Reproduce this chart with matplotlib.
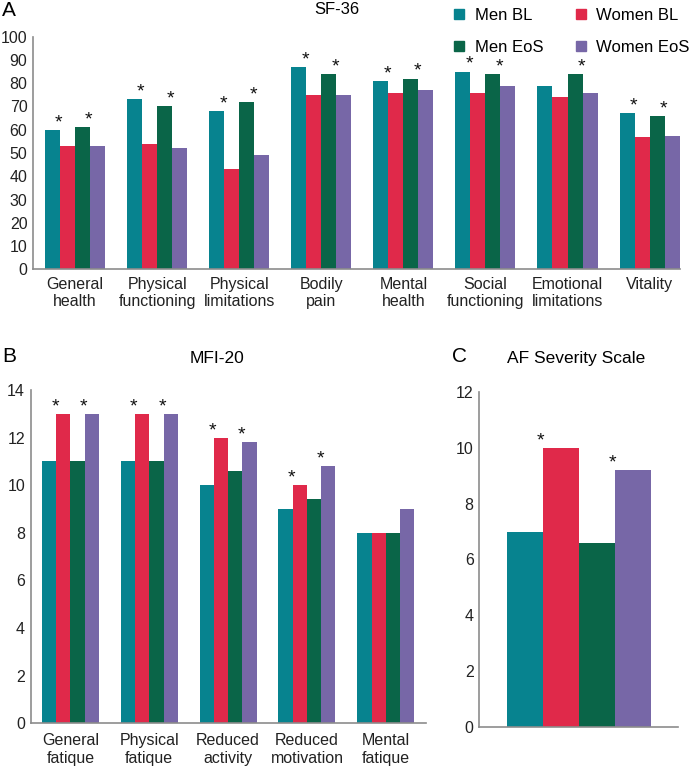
import matplotlib.pyplot as plt
from matplotlib.lines import Line2D

plt.rcParams['font.family'] = ['Liberation Sans', 'DejaVu Sans']

series = ["Men BL", "Women BL", "Men EoS", "Women EoS"]
colors = ["#07838F", "#E0294A", "#0A6548", "#7767A7"]

# panel A: SF-36
sf_cats = ["General\nhealth", "Physical\nfunctioning", "Physical\nlimitations", "Bodily\npain",
           "Mental\nhealth", "Social\nfunctioning", "Emotional\nlimitations", "Vitality"]
sf_men_bl = [60, 73, 68, 87, 81, 85, 79, 67]
sf_women_bl = [53, 54, 43, 75, 76, 76, 74, 57]
sf_men_eos = [61, 70, 72, 84, 82, 84, 84, 66]
sf_women_eos = [53, 52, 49, 75, 77, 79, 76, 57.5]
sf_star_bl = [1, 1, 1, 1, 1, 1, 0, 1]
sf_star_eos = [1, 1, 1, 1, 1, 1, 1, 1]

# panel B: MFI-20
mfi_cats = ["General\nfatique", "Physical\nfatique", "Reduced\nactivity", "Reduced\nmotivation", "Mental\nfatique"]
mfi_men_bl = [11, 11, 10, 9, 8]
mfi_women_bl = [13, 13, 12, 10, 8]
mfi_men_eos = [11, 11, 10.6, 9.4, 8]
mfi_women_eos = [13, 13, 11.8, 10.8, 9]
mfi_star_bl = [1, 1, 1, 1, 0]
mfi_star_eos = [1, 1, 1, 1, 0]

# panel C: AF Severity Scale
afs_values = [7, 10, 6.6, 9.2]
afs_star_bl = [1]
afs_star_eos = [1]

SPINE = "#8c8c8c"
FS = 13.5


def style(ax):
    for s in ["top", "right"]:
        ax.spines[s].set_visible(False)
    for s in ["left", "bottom"]:
        ax.spines[s].set_color(SPINE)
        ax.spines[s].set_linewidth(1.2)
    ax.tick_params(length=0, labelsize=11.5, colors="#222222")
    ax.tick_params(axis="y", pad=4)


def grouped(ax, groups, stars_bl, stars_eos, width):
    n = len(groups[0])
    xs = list(range(n))
    offs = [-1.5, -0.5, 0.5, 1.5]
    for vals, off, c in zip(groups, offs, colors):
        ax.bar([x + off * width for x in xs], vals, width, color=c, linewidth=0)
    for i in range(n):
        for k, flag in ((0, stars_bl[i]), (2, stars_eos[i])):
            if flag:
                top = max(groups[k][i], groups[k + 1][i])
                xj = i + (offs[k] + 0.5) * width - 0.08 * width
                ax.annotate("*", (xj, top), xytext=(0, -1), textcoords="offset points",
                            ha="center", va="bottom", fontsize=14, color="#111111")


fig = plt.figure(figsize=(6.91, 7.69), dpi=100)

axA = fig.add_axes([0.0478, 0.6498, 0.9362, 0.3025])
grouped(axA, [sf_men_bl, sf_women_bl, sf_men_eos, sf_women_eos], sf_star_bl, sf_star_eos, 0.183)
axA.set_ylim(0, 100)
axA.set_yticks(range(0, 101, 10))
axA.set_xlim(-0.512, 7.37)
axA.set_xticks(range(len(sf_cats)))
axA.set_xticklabels(sf_cats, fontsize=FS, linespacing=1.15)
axA.tick_params(axis="x", pad=5.5)
style(axA)

axB = fig.add_axes([0.0444, 0.0594, 0.5716, 0.4335])
grouped(axB, [mfi_men_bl, mfi_women_bl, mfi_men_eos, mfi_women_eos], mfi_star_bl, mfi_star_eos, 0.181)
axB.set_ylim(0, 14)
axB.set_yticks(range(0, 15, 2))
axB.set_xlim(-0.505, 4.506)
axB.set_xticks(range(len(mfi_cats)))
axB.set_xticklabels(mfi_cats, fontsize=FS, linespacing=1.25)
axB.tick_params(axis="x", pad=7)
style(axB)

axC = fig.add_axes([0.6936, 0.055, 0.288, 0.4349])
grouped(axC, [[v] for v in afs_values], afs_star_bl, afs_star_eos, 1.0)
axC.set_ylim(0, 12)
axC.set_yticks(range(0, 13, 2))
axC.set_xlim(-2.77, 2.76)
axC.set_xticks([])
style(axC)

# titles and panel letters
fig.text(337 / 691, 1 - 9 / 769, "SF-36", ha="center", va="center", fontsize=12)
fig.text(217 / 691, 1 - 359 / 769, "MFI-20", ha="center", va="center", fontsize=12.5)
fig.text(576 / 691, 1 - 359 / 769, "AF Severity Scale", ha="center", va="center", fontsize=12.5)
fig.text(2 / 691, 1 - 10 / 769, "A", ha="left", va="center", fontsize=15)
fig.text(2 / 691, 1 - 357 / 769, "B", ha="left", va="center", fontsize=15)
fig.text(452 / 691, 1 - 357 / 769, "C", ha="left", va="center", fontsize=15)

handles = [Line2D([], [], marker="s", linestyle="none", markersize=6.5, color=c) for c in colors]
order = [0, 2, 1, 3]
fig.legend([handles[i] for i in order], [series[i] for i in order], ncol=2,
           loc="upper left", bbox_to_anchor=(453 / 691, 1 - 8 / 769), frameon=False,
           fontsize=12, handlelength=0.7, handletextpad=0.6, columnspacing=1.9,
           labelspacing=1.0, borderpad=0, borderaxespad=0)

fig.savefig("out.png", dpi=100)
